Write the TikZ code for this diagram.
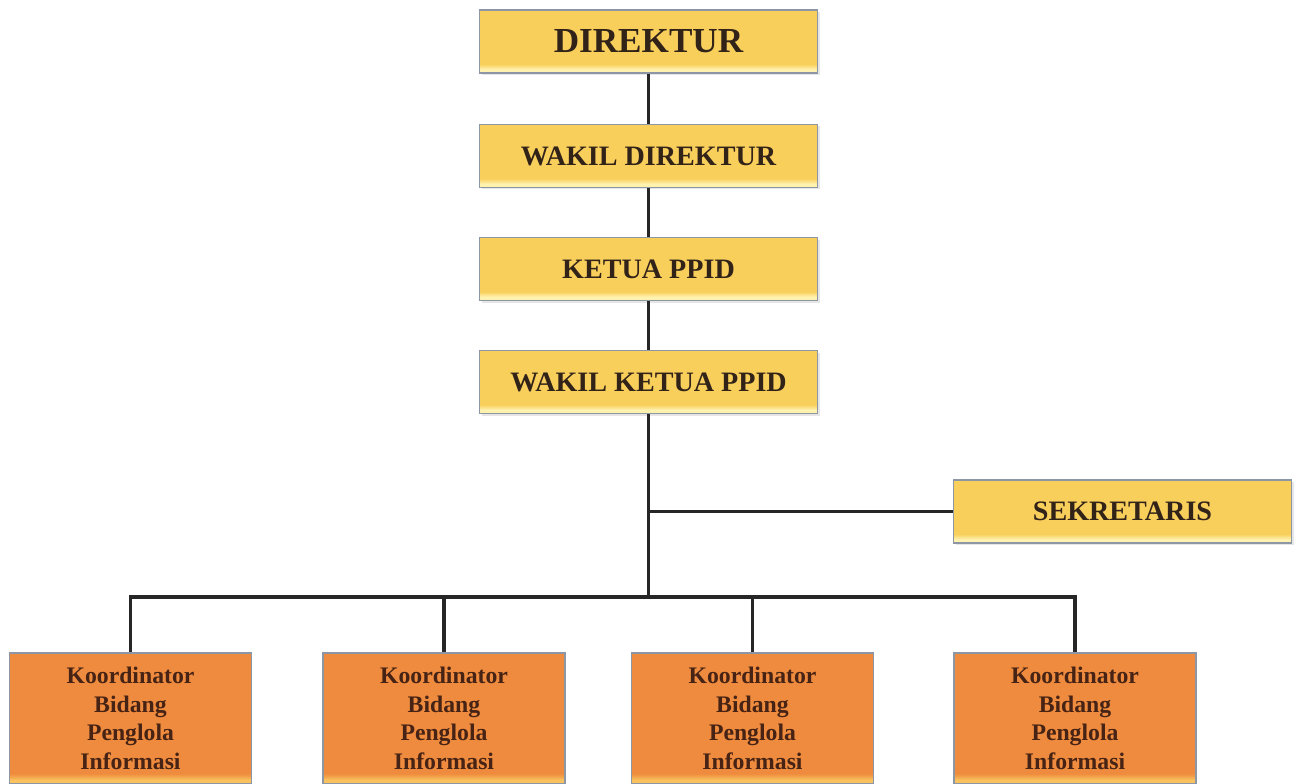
\documentclass[tikz,border=0pt]{standalone}
\usepackage{fontspec}
\setmainfont{Liberation Serif}
\usepackage{xcolor}
\usetikzlibrary{shadows}

\definecolor{boxyellow}{RGB}{249,207,92}
\definecolor{boxlight}{RGB}{255,242,175}
\definecolor{boxorange}{RGB}{239,139,62}
\definecolor{orangelight}{RGB}{250,195,95}
\definecolor{boxedge}{RGB}{140,150,165}
\definecolor{inktext}{RGB}{50,35,25}
\definecolor{koortext}{RGB}{70,35,20}

% light band at the lower edge of each box (path spans 25bp..75bp)
\pgfdeclareverticalshading{yellowbevel}{100bp}{color(0bp)=(boxlight); color(28bp)=(boxlight); color(32bp)=(boxyellow); color(100bp)=(boxyellow)}
\pgfdeclareverticalshading{orangebevel}{100bp}{color(0bp)=(orangelight); color(26.5bp)=(orangelight); color(29bp)=(boxorange); color(100bp)=(boxorange)}

\tikzset{
  headbox/.style={draw=boxedge, line width=0.6pt, shading=yellowbevel,
    minimum width=6.76cm, minimum height=1.26cm, inner sep=0pt,
    font=\bfseries\fontsize{16}{19}\selectfont, text=inktext,
    drop shadow={opacity=0.2, shadow xshift=0.04cm, shadow yshift=-0.04cm}},
  koorbox/.style={draw=boxedge, line width=0.6pt, shading=orangebevel,
    minimum width=4.84cm, minimum height=2.62cm, inner sep=0pt,
    align=center, font=\bfseries\fontsize{13.5}{16.2}\selectfont, text=koortext},
  link/.style={line width=2.2pt, draw=black!85}
}

\begin{document}
\begin{tikzpicture}
            \useasboundingbox (0,0) rectangle (25.96,-15.68);

            % top chain
            \node[headbox, font=\bfseries\fontsize{20}{24}\selectfont] (dir) at (12.97,-0.83) {DIREKTUR};
            \node[headbox] (wdir) at (12.97,-3.12) {WAKIL DIREKTUR};
            \node[headbox] (kppid) at (12.97,-5.38) {KETUA PPID};
            \node[headbox] (wkppid) at (12.97,-7.64) {WAKIL KETUA PPID};
            \node[headbox] (sek) at (22.45,-10.23) {SEKRETARIS};

            % coordinators
            \node[koorbox] (k1) at (2.61,-14.37) {Koordinator\\Bidang\\Penglola\\Informasi};
            \node[koorbox] (k2) at (8.88,-14.37) {Koordinator\\Bidang\\Penglola\\Informasi};
            \node[koorbox] (k3) at (15.05,-14.37) {Koordinator\\Bidang\\Penglola\\Informasi};
            \node[koorbox] (k4) at (21.50,-14.37) {Koordinator\\Bidang\\Penglola\\Informasi};

            \coordinate (bus) at (12.97,-11.94);

            % connectors
            \draw[link] (dir) -- (wdir);
            \draw[link] (wdir) -- (kppid);
            \draw[link] (kppid) -- (wkppid);
            \draw[link] (wkppid) -- (bus);
            \draw[link] (sek.west) -- (sek.west -| bus);
            \draw[link] (k1.north) |- (bus) -| (k4.north);
            \draw[link] (k2.north) -- (k2.north |- bus);
            \draw[link] (k3.north) -- (k3.north |- bus);
        \end{tikzpicture}
\end{document}
